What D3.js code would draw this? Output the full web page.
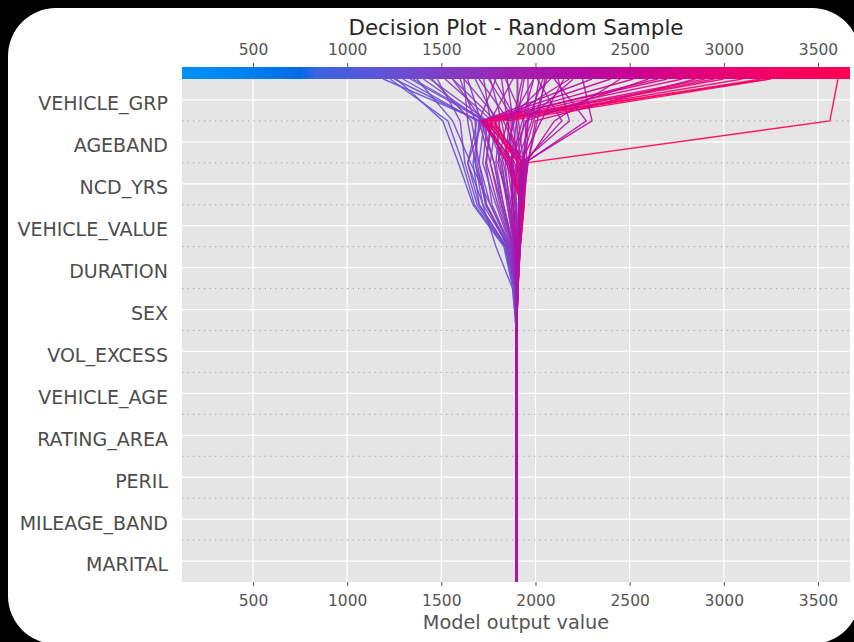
<!DOCTYPE html>
<html>
<head>
<meta charset="utf-8">
<script src="https://cdn.jsdelivr.net/npm/d3@7"></script>
<style>
  html, body { margin: 0; padding: 0; background: #000; }
  svg { display: block; }
</style>
</head>
<body>
<div id="chart"></div>
<script>
// features from bottom (first added) to top (last added)
var features = ["MARITAL", "MILEAGE_BAND", "PERIL", "RATING_AREA", "VEHICLE_AGE", "VOL_EXCESS",
                "SEX", "DURATION", "VEHICLE_VALUE", "NCD_YRS", "AGEBAND", "VEHICLE_GRP"];
var xTicks = [500, 1000, 1500, 2000, 2500, 3000, 3500];
var baseValue = 1900;
var xDomain = [123, 3670];

// cumulative model output of each sample at every level (base value, then after each feature)
var samples = [
    [1900, 1900, 1900, 1900, 1900, 1900, 1899, 1893, 1846, 1702, 1668, 1708, 1192],
    [1900, 1900, 1900, 1900, 1900, 1900, 1900, 1888, 1838, 1676, 1612, 1535, 1228],
    [1900, 1900, 1900, 1900, 1900, 1900, 1898, 1878, 1790, 1720, 1680, 1700, 1250],
    [1900, 1900, 1900, 1900, 1900, 1900, 1898, 1880, 1832, 1668, 1590, 1508, 1262],
    [1900, 1900, 1900, 1900, 1900, 1900, 1900, 1895, 1858, 1722, 1640, 1690, 1296],
    [1900, 1900, 1900, 1900, 1900, 1900, 1899, 1890, 1850, 1740, 1700, 1728, 1335],
    [1900, 1900, 1900, 1900, 1900, 1900, 1900, 1902, 1890, 1860, 1820, 1740, 1350],
    [1900, 1900, 1900, 1900, 1900, 1900, 1900, 1896, 1862, 1760, 1655, 1560, 1370],
    [1900, 1900, 1900, 1900, 1900, 1900, 1900, 1892, 1845, 1700, 1640, 1720, 1405],
    [1900, 1900, 1900, 1900, 1900, 1900, 1901, 1898, 1870, 1790, 1720, 1745, 1440],
    [1900, 1900, 1900, 1900, 1900, 1900, 1900, 1899, 1870, 1760, 1700, 1660, 1450],
    [1900, 1900, 1900, 1900, 1900, 1900, 1900, 1885, 1840, 1690, 1625, 1600, 1478],
    [1900, 1900, 1900, 1900, 1900, 1900, 1899, 1897, 1866, 1770, 1735, 1770, 1520],
    [1900, 1900, 1900, 1900, 1900, 1900, 1900, 1902, 1885, 1820, 1780, 1720, 1560],
    [1900, 1900, 1900, 1900, 1900, 1900, 1900, 1899, 1880, 1810, 1760, 1790, 1560],
    [1900, 1900, 1900, 1900, 1900, 1900, 1900, 1894, 1855, 1735, 1690, 1680, 1600],
    [1900, 1900, 1900, 1900, 1900, 1900, 1900, 1896, 1860, 1740, 1680, 1640, 1620],
    [1900, 1900, 1900, 1900, 1900, 1900, 1900, 1899, 1880, 1830, 1790, 1810, 1620],
    [1900, 1900, 1900, 1900, 1900, 1900, 1901, 1900, 1885, 1830, 1780, 1710, 1640],
    [1900, 1900, 1900, 1900, 1900, 1900, 1900, 1902, 1890, 1850, 1810, 1790, 1680],
    [1900, 1900, 1900, 1900, 1900, 1900, 1900, 1903, 1895, 1860, 1840, 1860, 1700],
    [1900, 1900, 1900, 1900, 1900, 1900, 1900, 1903, 1895, 1870, 1830, 1760, 1725],
    [1900, 1900, 1900, 1900, 1900, 1900, 1900, 1898, 1885, 1850, 1820, 1890, 1750],
    [1900, 1900, 1900, 1900, 1900, 1900, 1900, 1905, 1905, 1890, 1860, 1820, 1760],
    [1900, 1900, 1900, 1900, 1900, 1900, 1900, 1904, 1900, 1880, 1870, 1900, 1780],
    [1900, 1900, 1900, 1900, 1900, 1900, 1901, 1898, 1880, 1820, 1760, 1700, 1790],
    [1900, 1900, 1900, 1900, 1900, 1900, 1900, 1904, 1908, 1900, 1880, 1850, 1820],
    [1900, 1900, 1900, 1900, 1900, 1900, 1900, 1902, 1898, 1885, 1900, 1940, 1840],
    [1900, 1900, 1900, 1900, 1900, 1900, 1900, 1906, 1912, 1915, 1905, 1880, 1850],
    [1900, 1900, 1900, 1900, 1900, 1900, 1899, 1897, 1875, 1800, 1740, 1760, 1880],
    [1900, 1900, 1900, 1900, 1900, 1900, 1900, 1905, 1910, 1920, 1935, 1910, 1905],
    [1900, 1900, 1900, 1900, 1900, 1900, 1900, 1902, 1900, 1880, 1850, 1880, 1930],
    [1900, 1900, 1900, 1900, 1900, 1900, 1900, 1905, 1908, 1910, 1920, 1900, 1940],
    [1900, 1900, 1900, 1900, 1900, 1900, 1900, 1904, 1912, 1925, 1890, 1715, 2300],
    [1900, 1900, 1900, 1900, 1900, 1900, 1900, 1905, 1915, 1930, 1855, 1720, 2400],
    [1900, 1900, 1900, 1900, 1900, 1900, 1900, 1903, 1910, 1920, 1880, 1725, 2520],
    [1900, 1900, 1900, 1900, 1900, 1900, 1900, 1906, 1918, 1935, 1930, 1730, 2650],
    [1900, 1900, 1900, 1900, 1900, 1900, 1900, 1905, 1914, 1930, 1870, 1710, 2700],
    [1900, 1900, 1900, 1900, 1900, 1900, 1900, 1904, 1913, 1928, 1845, 1735, 2780],
    [1900, 1900, 1900, 1900, 1900, 1900, 1900, 1907, 1920, 1940, 1955, 1745, 2900],
    [1900, 1900, 1900, 1900, 1900, 1900, 1900, 1904, 1912, 1925, 1930, 1770, 2950],
    [1900, 1900, 1900, 1900, 1900, 1900, 1900, 1905, 1916, 1932, 1905, 1760, 3000],
    [1900, 1900, 1900, 1900, 1900, 1900, 1900, 1906, 1918, 1938, 1915, 1780, 3100],
    [1900, 1900, 1900, 1900, 1900, 1900, 1900, 1904, 1914, 1930, 1865, 1800, 3200],
    [1900, 1900, 1900, 1900, 1900, 1900, 1900, 1905, 1917, 1935, 1912, 1740, 3240],
    [1900, 1900, 1900, 1900, 1900, 1900, 1900, 1906, 1919, 1940, 1925, 1850, 3250],
    [1900, 1900, 1900, 1900, 1900, 1900, 1900, 1903, 1912, 1928, 1940, 1950, 2600],
    [1900, 1900, 1900, 1900, 1900, 1900, 1900, 1905, 1915, 1935, 1960, 2000, 2850],
    [1900, 1900, 1900, 1900, 1900, 1900, 1900, 1904, 1914, 1932, 1950, 2100, 2450],
    [1900, 1900, 1900, 1900, 1900, 1900, 1900, 1906, 1918, 1938, 1950, 3563, 3606],
    [1900, 1900, 1900, 1900, 1900, 1900, 1900, 1908, 1915, 1930, 1950, 1960, 1960],
    [1900, 1900, 1900, 1900, 1900, 1900, 1900, 1903, 1906, 1895, 1870, 1930, 1990],
    [1900, 1900, 1900, 1900, 1900, 1900, 1900, 1901, 1893, 1870, 1880, 1870, 1990],
    [1900, 1900, 1900, 1900, 1900, 1900, 1900, 1904, 1910, 1925, 1935, 2140, 2010],
    [1900, 1900, 1900, 1900, 1900, 1900, 1901, 1907, 1918, 1925, 1900, 1980, 2020],
    [1900, 1900, 1900, 1900, 1900, 1900, 1900, 1904, 1910, 1918, 1930, 1960, 2040],
    [1900, 1900, 1900, 1900, 1900, 1900, 1900, 1905, 1912, 1930, 1960, 2010, 2050],
    [1900, 1900, 1900, 1900, 1900, 1900, 1900, 1901, 1890, 1860, 1800, 1850, 2080],
    [1900, 1900, 1900, 1900, 1900, 1900, 1900, 1906, 1915, 1920, 1945, 2270, 2100],
    [1900, 1900, 1900, 1900, 1900, 1900, 1900, 1903, 1906, 1912, 1925, 2180, 2120],
    [1900, 1900, 1900, 1900, 1900, 1900, 1900, 1903, 1908, 1915, 1920, 2030, 2150],
    [1900, 1900, 1900, 1900, 1900, 1900, 1900, 1905, 1910, 1920, 1930, 1830, 2180],
    [1900, 1900, 1900, 1900, 1900, 1900, 1900, 1902, 1896, 1880, 1870, 1950, 2200],
    [1900, 1900, 1900, 1900, 1900, 1900, 1900, 1905, 1913, 1925, 1940, 2300, 2250],
    [1900, 1900, 1900, 1900, 1900, 1900, 1900, 1903, 1907, 1915, 1925, 1990, 2060]
];

// colour bar stops (fraction of axis width)
var cbStops = [0, 0.087, 0.177, 0.2, 0.326, 0.416, 0.5, 0.59, 0.69, 0.79, 0.89, 1];
var cbColors = ["#0092f8", "#0083f2", "#006ae6", "#3a64e2", "#6a4ed4", "#8838c0",
                "#a020b0", "#b40ca4", "#cc0090", "#e4007a", "#f60062", "#ff0052"];

var W = 854, H = 642;
var plot = { left: 182, right: 850, top: 79, bottom: 582 };
var cbTop = 67;

var svg = d3.select("#chart").append("svg")
    .attr("width", W).attr("height", H)
    .style("font-family", "'DejaVu Sans', sans-serif");

// white card on black page
svg.append("rect")
    .attr("x", 8).attr("y", 8)
    .attr("width", 852).attr("height", 636)
    .attr("rx", 48).attr("ry", 48)
    .attr("fill", "#fff");

var x = d3.scaleLinear().domain(xDomain).range([plot.left, plot.right]);
var y = d3.scaleLinear().domain([0, features.length]).range([plot.bottom, plot.top]);

var cmap = d3.scaleLinear().domain(cbStops).range(cbColors)
    .interpolate(d3.interpolateRgb).clamp(true);
var norm = d3.scaleLinear().domain(xDomain).range([0, 1]);

// plot background
svg.append("rect")
    .attr("x", plot.left).attr("y", plot.top)
    .attr("width", plot.right - plot.left).attr("height", plot.bottom - plot.top)
    .attr("fill", "#e5e5e5");

// white grid
var grid = svg.append("g");
grid.selectAll(".vg").data(xTicks).enter().append("line")
    .attr("x1", d => x(d)).attr("x2", d => x(d))
    .attr("y1", plot.top).attr("y2", plot.bottom)
    .attr("stroke", "#fff").attr("stroke-width", 1.2);
grid.selectAll(".hg").data(features).enter().append("line")
    .attr("x1", plot.left).attr("x2", plot.right)
    .attr("y1", (d, i) => y(i + 0.5)).attr("y2", (d, i) => y(i + 0.5))
    .attr("stroke", "#fff").attr("stroke-width", 1.2);

// dotted level lines
grid.selectAll(".dl").data(d3.range(1, features.length)).enter().append("line")
    .attr("x1", plot.left).attr("x2", plot.right)
    .attr("y1", d => y(d)).attr("y2", d => y(d))
    .attr("stroke", "#a0a0a0").attr("stroke-width", 1)
    .attr("stroke-dasharray", "1.2,4.3");

// base value line
svg.append("line")
    .attr("x1", x(baseValue)).attr("x2", x(baseValue))
    .attr("y1", cbTop).attr("y2", plot.bottom)
    .attr("stroke", "#999").attr("stroke-width", 1);

// decision lines
var line = d3.line()
    .x(d => x(d))
    .y((d, i) => y(i));

svg.append("g").selectAll("path")
    .data(samples).enter().append("path")
    .attr("d", line)
    .attr("fill", "none")
    .attr("stroke", d => cmap(norm(d[d.length - 1])))
    .attr("stroke-width", 1.4)
    .attr("stroke-opacity", 0.9)
    .attr("stroke-linejoin", "miter");

// colour bar on top
var defs = svg.append("defs");
var grad = defs.append("linearGradient").attr("id", "cbar");
cbStops.forEach(function(t, i) {
    grad.append("stop").attr("offset", t).attr("stop-color", cbColors[i]);
});
svg.append("rect")
    .attr("x", plot.left).attr("y", cbTop)
    .attr("width", plot.right - plot.left).attr("height", plot.top - cbTop)
    .attr("fill", "url(#cbar)");

// axes
var fmt = d3.format("d");
var axTop = svg.append("g")
    .attr("transform", "translate(0," + cbTop + ")")
    .call(d3.axisTop(x).tickValues(xTicks).tickFormat(fmt).tickSize(4).tickPadding(8));
var axBottom = svg.append("g")
    .attr("transform", "translate(0," + plot.bottom + ")")
    .call(d3.axisBottom(x).tickValues(xTicks).tickFormat(fmt).tickSize(4).tickPadding(9));
[axTop, axBottom].forEach(function(a) {
    a.select(".domain").remove();
    a.selectAll("line").attr("stroke", "#555");
    a.selectAll("text")
        .style("font-family", "'DejaVu Sans', sans-serif")
        .style("font-size", "15.5px")
        .attr("fill", "#555");
});

var axLeft = svg.append("g")
    .attr("transform", "translate(" + plot.left + ",0)")
    .call(d3.axisLeft(y)
        .tickValues(features.map((d, i) => i + 0.5))
        .tickFormat((d, i) => features[i])
        .tickSize(0).tickPadding(14));
axLeft.select(".domain").remove();
axLeft.selectAll("text")
    .attr("dy", "0.52em")
    .style("font-family", "'DejaVu Sans', sans-serif")
    .style("font-size", "19px")
    .attr("fill", "#4d4d4d");

// title and axis label
svg.append("text")
    .attr("x", (plot.left + plot.right) / 2).attr("y", 35)
    .attr("text-anchor", "middle")
    .style("font-size", "21.4px")
    .attr("fill", "#262626")
    .text("Decision Plot - Random Sample");

svg.append("text")
    .attr("x", (plot.left + plot.right) / 2).attr("y", 629)
    .attr("text-anchor", "middle")
    .style("font-size", "19.3px")
    .attr("fill", "#555")
    .text("Model output value");
</script>
</body>
</html>
